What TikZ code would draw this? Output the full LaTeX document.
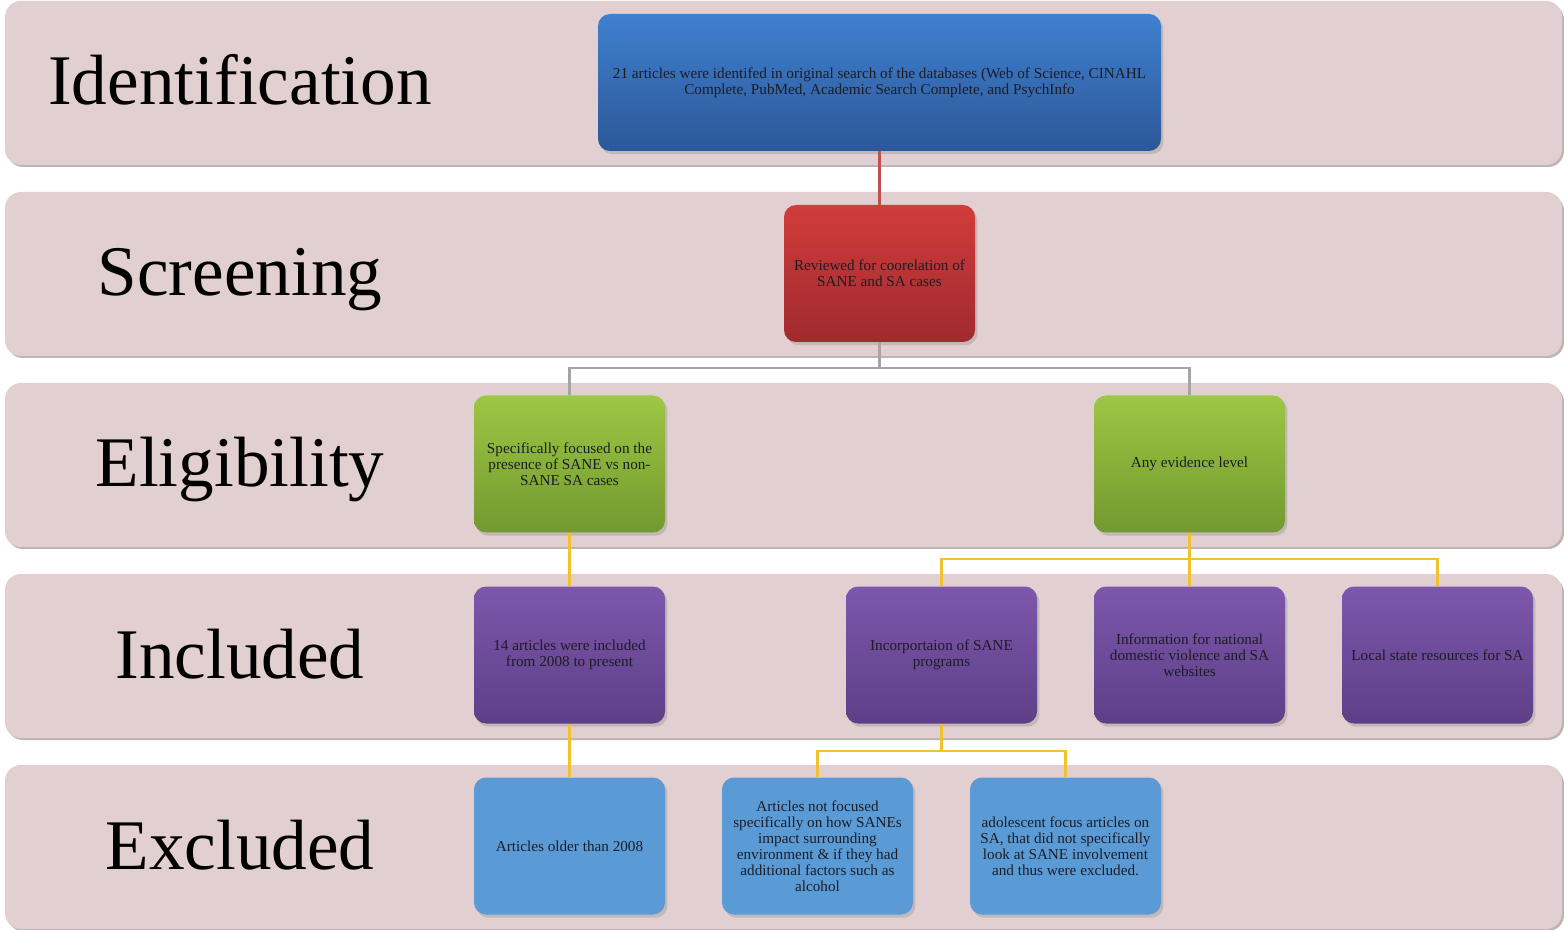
\documentclass[tikz,border=0pt]{standalone}
\usepackage{fontspec}
\setmainfont{Liberation Serif}
\usetikzlibrary{shadows}
\definecolor{band}{HTML}{E2CFD1}
\definecolor{bandedge}{HTML}{BDB4B5}
\definecolor{ink}{HTML}{1C1C26}
\definecolor{idtop}{HTML}{3F80D0}
\definecolor{idbot}{HTML}{2C5898}
\definecolor{scrtop}{HTML}{D23C3B}
\definecolor{scrbot}{HTML}{A02A2E}
\definecolor{eligtop}{HTML}{9DC744}
\definecolor{eligbot}{HTML}{72992F}
\definecolor{incltop}{HTML}{7D57AC}
\definecolor{inclbot}{HTML}{5D3F87}
\definecolor{exclfill}{HTML}{5B9BD5}
\definecolor{redline}{HTML}{C0504D}
\definecolor{grayline}{HTML}{A5A5A5}
\definecolor{goldline}{HTML}{F2C12E}

\begin{document}
\begin{tikzpicture}[x=0.5pt,y=-0.5pt,
  stage/.style={font=\fontsize{35.6}{40}\selectfont,text=black,anchor=base},
  card/.style={rounded corners=6pt,minimum width=95.5pt,minimum height=68.5pt,inner sep=2pt,
    align=center,text=ink,font=\fontsize{7.6}{8}\selectfont,
    drop shadow={shadow xshift=1.2pt,shadow yshift=-1.6pt,opacity=0.3}},
  idcard/.style={card,top color=idtop,bottom color=idbot},
  scrcard/.style={card,top color=scrtop,bottom color=scrbot},
  eligcard/.style={card,top color=eligtop,bottom color=eligbot},
  inclcard/.style={card,top color=incltop,bottom color=inclbot},
  exclcard/.style={card,fill=exclfill},
  link/.style={line width=1.4pt}]
  \useasboundingbox (0,0) rectangle (1564,930);
  \fill[white] (0,0) rectangle (1564,930);
  \foreach \y/\lab [count=\i] in {1/Identification,192/Screening,383/Eligibility,574/Included,765/Excluded} {
    \fill[bandedge,rounded corners=8pt] (7,\y+3) rectangle (1564,\y+166);
    \fill[band,rounded corners=8pt] (5,\y) rectangle (1562,\y+164);
    \node[stage] (stage\i) at (240,\y+104) {\lab};
  }
  \node[idcard,minimum width=281.5pt] (found) at (879.5,82.5)
    {21 articles were identifed in original search of the databases (Web of Science, CINAHL\\
     Complete, PubMed, Academic Search Complete, and PsychInfo};
  \node[scrcard] (screen) at (879.5,273.5) {Reviewed for coorelation of\\ SANE and SA cases};
  \node[eligcard] (focus) at (569.5,464) {Specifically focused on the\\ presence of SANE vs non-\\ SANE SA cases};
  \node[eligcard] (anylevel) at (1189.5,464) {Any evidence level};
  \node[inclcard] (since) at (569.5,655) {14 articles were included\\ from 2008 to present};
  \node[inclcard] (programs) at (941.5,655) {Incorportaion of SANE\\ programs};
  \node[inclcard] (national) at (1189.5,655) {Information for national\\ domestic violence and SA\\ websites};
  \node[inclcard] (local) at (1437.5,655) {Local state resources for SA};
  \node[exclcard] (older) at (569.5,846) {Articles older than 2008};
  \node[exclcard] (unfocused) at (817.5,846)
    {Articles not focused\\ specifically on how SANEs\\ impact surrounding\\ environment \& if they had\\ additional factors such as\\ alcohol};
  \node[exclcard] (teen) at (1065.5,846)
    {adolescent focus articles on\\ SA, that did not specifically\\ look at SANE involvement\\ and thus were excluded.};
  \coordinate (split1) at (879.5,368);
  \coordinate (split2) at (1189.5,559);
  \coordinate (split3) at (941.5,751);
  \draw[link,redline] (found.south) -- (screen.north);
  \draw[link,grayline] (screen.south) -- (split1) -| (focus.north);
  \draw[link,grayline] (split1) -| (anylevel.north);
  \draw[link,goldline] (focus.south) -- (since.north);
  \draw[link,goldline] (anylevel.south) -- (split2) -| (programs.north);
  \draw[link,goldline] (split2) -- (national.north);
  \draw[link,goldline] (split2) -| (local.north);
  \draw[link,goldline] (since.south) -- (older.north);
  \draw[link,goldline] (programs.south) -- (split3) -| (unfocused.north);
  \draw[link,goldline] (split3) -| (teen.north);
\end{tikzpicture}
\end{document}
